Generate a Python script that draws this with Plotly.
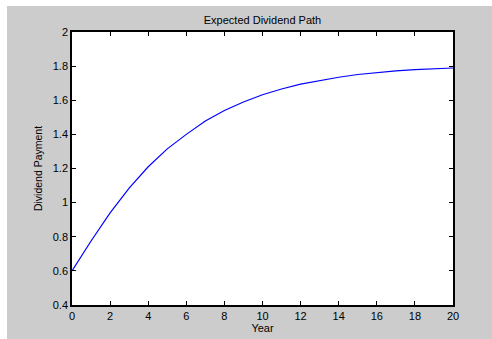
import plotly.graph_objects as go

# Expected dividend per year
years = list(range(0, 21))
dividend = [0.600, 0.775, 0.940, 1.085, 1.210, 1.315, 1.400, 1.478, 1.540, 1.590,
            1.632, 1.666, 1.694, 1.716, 1.735, 1.751, 1.763, 1.772, 1.779, 1.785, 1.789]

x_ticks = list(range(0, 21, 2))
y_ticks = [0.4, 0.6, 0.8, 1.0, 1.2, 1.4, 1.6, 1.8, 2.0]
y_tick_text = ["0.4", "0.6", "0.8", "1", "1.2", "1.4", "1.6", "1.8", "2"]

W, H = 492, 339
ML, MR, MT, MB = 72, 39, 32, 34
pw, ph = W - ML - MR, H - MT - MB

def px_to_paper_x(px):
    return (px - ML) / pw

def px_to_paper_y(py):
    return (H - MB - py) / ph

FONT = "Liberation Sans, Arial, sans-serif"

fig = go.Figure()
fig.add_trace(go.Scatter(x=years, y=dividend, mode="lines",
                         line=dict(color="#0000FF", width=1.2),
                         hoverinfo="skip", showlegend=False))

axis_common = dict(showline=True, linecolor="black", linewidth=1.5, mirror="ticks",
                   ticks="inside", ticklen=4, tickcolor="black", tickwidth=1,
                   showgrid=False, zeroline=False, automargin=False,
                   tickfont=dict(family=FONT, size=11, color="black"))

fig.update_xaxes(range=[0, 20], tickvals=x_ticks,
                 title=dict(text="Year", font=dict(family=FONT, size=11, color="black"), standoff=2),
                 **axis_common)
fig.update_yaxes(range=[0.4, 2.0], tickvals=y_ticks, ticktext=y_tick_text,
                 title=dict(text="Dividend Payment", font=dict(family=FONT, size=10.5, color="black"), standoff=8),
                 **axis_common)

# thin white frame along the top and left edges of the figure
shapes = [
    dict(type="rect", xref="paper", yref="paper",
         x0=px_to_paper_x(0), x1=px_to_paper_x(W), y0=px_to_paper_y(6), y1=px_to_paper_y(0),
         fillcolor="white", line=dict(width=0), layer="below"),
    dict(type="rect", xref="paper", yref="paper",
         x0=px_to_paper_x(0), x1=px_to_paper_x(7), y0=px_to_paper_y(H), y1=px_to_paper_y(0),
         fillcolor="white", line=dict(width=0), layer="below"),
]

fig.update_layout(
    width=W, height=H,
    margin=dict(l=ML, r=MR, t=MT, b=MB, pad=0),
    paper_bgcolor="#CCCCCC", plot_bgcolor="white",
    title=dict(text="Expected Dividend Path", x=0.5, xref="paper",
               y=1 - 20 / H, yref="container", yanchor="middle", xanchor="center",
               font=dict(family=FONT, size=11, color="black")),
    shapes=shapes,
)

fig.write_html("out.html", config={"displayModeBar": False})
